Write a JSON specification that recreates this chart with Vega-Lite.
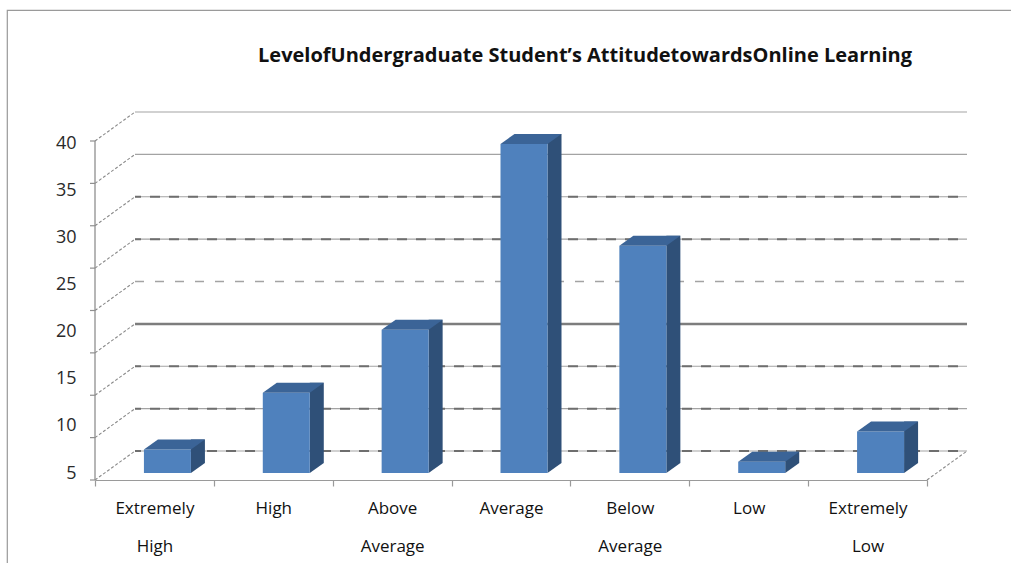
{
  "$schema": "https://vega.github.io/schema/vega-lite/v6.json",
  "width": 1004,
  "height": 553,
  "autosize": {"type": "none"},
  "padding": {"left": 7, "top": 10, "right": 0, "bottom": 0},
  "background": "white",
  "config": {
    "font": "Open Sans",
    "view": {"stroke": "#9a9a9a", "strokeWidth": 1.2, "strokeDash": [1004, 1557, 553, 0]}
  },
  "title": {
    "text": "LevelofUndergraduate Student’s AttitudetowardsOnline Learning",
    "font": "Open Sans",
    "fontSize": 20,
    "fontWeight": "bold",
    "color": "#111111",
    "anchor": "middle",
    "baseline": "alphabetic",
    "offset": 0,
    "dx": 76,
    "dy": 72
  },
  "datasets": {
    "levels": [
      {"level": 0}, {"level": 5}, {"level": 10}, {"level": 15}, {"level": 20},
      {"level": 25}, {"level": 30}, {"level": 35}, {"level": 40}
    ],
    "attitude": [
      {"category": "Extremely High", "value": 7.5},
      {"category": "High", "value": 13.5},
      {"category": "Above Average", "value": 20.2},
      {"category": "Average", "value": 39.9},
      {"category": "Below Average", "value": 29.1},
      {"category": "Low", "value": 6.2},
      {"category": "Extremely Low", "value": 9.4}
    ]
  },
  "layer": [
    {
      "data": {"name": "levels"},
      "encoding": {
        "x": {"datum": 0, "type": "quantitative", "scale": {"domain": [0, 7], "range": [88, 920]}, "axis": null},
        "y": {"field": "level", "type": "quantitative", "scale": {"domain": [0, 40], "range": [470, 131]}, "axis": null}
      },
      "layer": [
        {
          "transform": [{"filter": "datum.level != 20 && datum.level != 15"}],
          "mark": {"type": "rule", "color": "#a3a3a3", "strokeWidth": 1.2, "xOffset": 40, "x2Offset": 40, "yOffset": -29},
          "encoding": {"x2": {"datum": 7}}
        },
        {
          "transform": [{"filter": "datum.level == 15"}],
          "mark": {"type": "rule", "color": "#7d7d7d", "strokeWidth": 2.5, "xOffset": 40, "x2Offset": 40, "yOffset": -29},
          "encoding": {"x2": {"datum": 7}}
        },
        {
          "transform": [{"filter": "datum.level == 20"}],
          "mark": {"type": "rule", "color": "#a3a3a3", "strokeWidth": 1.5, "strokeDash": [9, 11], "xOffset": 40, "x2Offset": 40, "yOffset": -29},
          "encoding": {"x2": {"datum": 7}}
        },
        {
          "transform": [{"filter": "indexof([0, 5, 10, 25, 30], datum.level) >= 0"}],
          "mark": {"type": "rule", "color": "#6e6e6e", "strokeWidth": 2, "strokeDash": [10, 9], "strokeDashOffset": 4, "xOffset": 40, "x2Offset": 40, "yOffset": -29},
          "encoding": {"x2": {"datum": 7}}
        },
        {
          "mark": {"type": "rule", "color": "#8a8a8a", "strokeWidth": 1.1, "strokeDash": [3, 2], "x2Offset": 40, "y2Offset": -29},
          "encoding": {"x2": {"datum": 0}, "y2": {"field": "level"}}
        },
        {
          "transform": [{"filter": "datum.level == 0"}],
          "mark": {"type": "rule", "color": "#8a8a8a", "strokeWidth": 1.1, "strokeDash": [3, 2], "x2Offset": 40, "y2Offset": -29},
          "encoding": {"x": {"datum": 7}, "x2": {"datum": 7}, "y2": {"field": "level"}}
        },
        {
          "transform": [{"filter": "datum.level == 0"}],
          "mark": {"type": "rule", "color": "#8f8f8f", "strokeWidth": 1.3},
          "encoding": {"y": {"datum": 0}, "y2": {"datum": 40}}
        },
        {
          "mark": {"type": "rule", "color": "#8f8f8f", "strokeWidth": 1.2, "xOffset": -5},
          "encoding": {"x2": {"datum": 0}}
        }
      ]
    },
    {
      "data": {"name": "attitude"},
      "encoding": {
        "x": {
          "field": "category",
          "type": "nominal",
          "sort": null,
          "scale": {"range": [88, 920], "paddingInner": 0, "paddingOuter": 0},
          "axis": {
            "orient": "bottom",
            "offset": -83,
            "title": null,
            "tickBand": "extent",
            "tickSize": 6,
            "tickColor": "#9a9a9a",
            "tickWidth": 1.2,
            "domainColor": "#9a9a9a",
            "domainWidth": 1.2,
            "labelAngle": 0,
            "labelFont": "Open Sans",
            "labelFontSize": 17,
            "labelColor": "#111111",
            "labelPadding": 14,
            "labelExpr": "split(datum.label, ' ')",
            "labelLineHeight": 38
          }
        },
        "y": {
          "field": "value",
          "type": "quantitative",
          "scale": {"domain": [5, 40], "range": [463, 133], "nice": false, "zero": false},
          "axis": {
            "orient": "left",
            "offset": -88,
            "title": null,
            "values": [5, 10, 15, 20, 25, 30, 35, 40],
            "domain": false,
            "ticks": false,
            "grid": false,
            "labelPadding": 19,
            "labelFont": "Open Sans",
            "labelFontSize": 18,
            "labelColor": "#2a2a2a"
          }
        }
      },
      "layer": [
        {
          "mark": {"type": "bar", "width": 14, "xOffset": 43.5, "yOffset": -10, "y2Offset": -10, "color": "#2f5078"},
          "encoding": {"y2": {"datum": 5}}
        },
        {
          "mark": {"type": "point", "shape": "M36.5,-10L36.5,0L50.5,-10Z", "size": 4, "filled": true, "opacity": 1, "strokeWidth": 0, "color": "#2f5078"},
          "encoding": {"y": {"datum": 5, "type": "quantitative"}}
        },
        {
          "mark": {"type": "bar", "width": 47, "xOffset": 13, "color": "#4f81bd"},
          "encoding": {"y2": {"datum": 5}}
        },
        {
          "mark": {"type": "point", "shape": "M-10.5,0L36.5,0L50.5,-10L3.5,-10Z", "size": 4, "filled": true, "opacity": 1, "strokeWidth": 0, "color": "#3b6497"}
        }
      ]
    }
  ],
  "resolve": {"scale": {"x": "independent", "y": "independent"}}
}
